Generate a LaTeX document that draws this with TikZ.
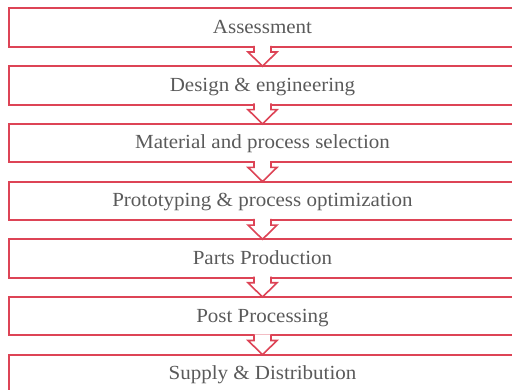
\documentclass[tikz,border=0pt]{standalone}
\usepackage{fontspec}
\setmainfont[FakeStretch=1.05]{Liberation Serif}
\usetikzlibrary{calc}
\definecolor{stepred}{RGB}{221,68,86}
\definecolor{stepgray}{RGB}{90,90,90}

\begin{document}
\begin{tikzpicture}[x=1pt,y=1pt,
	stepbox/.style={draw=stepred, line width=2pt, outer sep=0pt, inner sep=0pt,
		minimum width=507pt, minimum height=38.5pt, text=stepgray,
		text height=12pt, text depth=0.3pt, font=\fontsize{20}{22}\selectfont},
	flowarrow/.style={draw=stepred, line width=1.6pt, fill=white, line join=miter}]
	\useasboundingbox (0,0) rectangle (512,-390);
	
	% Define nodes
	\node [stepbox] (s1) at (262.5,-27.75)  {Assessment};
	\node [stepbox] (s2) at (262.5,-85.45)  {Design \& engineering};
	\node [stepbox] (s3) at (262.5,-143.15) {Material and process selection};
	\node [stepbox] (s4) at (262.5,-200.85) {Prototyping \& process optimization};
	\node [stepbox] (s5) at (262.5,-258.55) {Parts Production};
	\node [stepbox] (s6) at (262.5,-316.25) {Post Processing};
	\node [stepbox] (s7) at (262.5,-373.95) {Supply \& Distribution};
	
	% Draw arrows between the steps
	\foreach \a/\b in {s1/s2, s2/s3, s3/s4, s4/s5, s5/s6, s6/s7} {
		\path [flowarrow] ($(\a.south)+(-8.5,1.2)$) -- ($(\a.south)+(-8.5,-5)$)
			-- ($(\a.south)+(-14.5,-5)$) -- (\b.north) -- ($(\a.south)+(14.5,-5)$)
			-- ($(\a.south)+(8.5,-5)$) -- ($(\a.south)+(8.5,1.2)$);
	}
\end{tikzpicture}
\end{document}
